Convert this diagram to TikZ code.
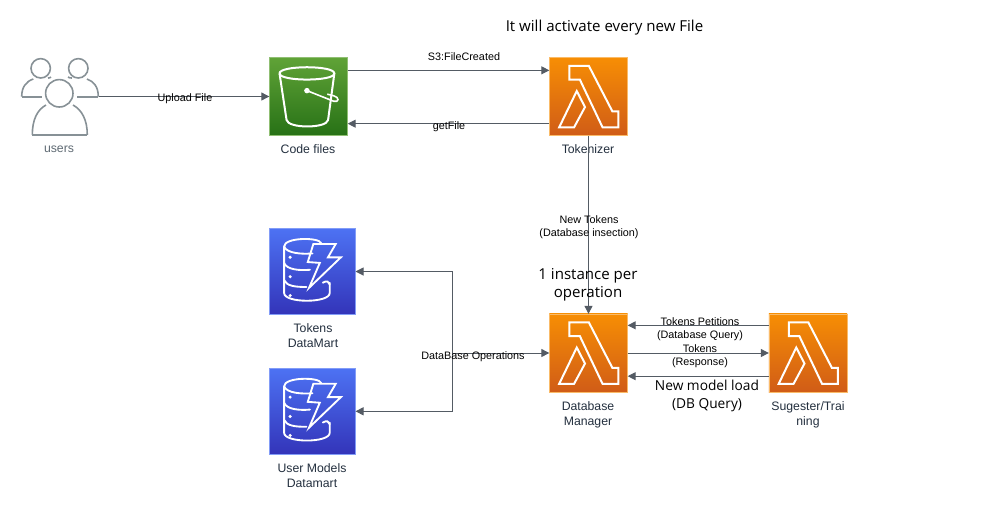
\documentclass[tikz,border=0pt]{standalone}
\usepackage{fontspec}
\setmainfont{Liberation Sans}
\newfontfamily\titlefont{Open Sans}
\usetikzlibrary{arrows.meta,calc}
\definecolor{line}{HTML}{545B64}
\definecolor{lbl}{HTML}{232F3E}
\definecolor{usergray}{HTML}{879196}
\definecolor{s3a}{HTML}{60A337}
\definecolor{s3b}{HTML}{277116}
\definecolor{laa}{HTML}{F78E04}
\definecolor{lab}{HTML}{D05C17}
\definecolor{dba}{HTML}{4D72F3}
\definecolor{dbb}{HTML}{3334B9}
\tikzset{
  x=0.75pt,y=-0.75pt,
  conn/.style={draw=line,line width=0.75pt,-{Triangle[length=6pt,width=6pt]}},
  s3box/.style={minimum width=58.75pt,minimum height=58.75pt,inner sep=0pt,outer sep=0pt,draw=s3a!70!white,line width=0.5pt,top color=s3a,bottom color=s3b},
  lambdabox/.style={minimum width=58.75pt,minimum height=58.75pt,inner sep=0pt,outer sep=0pt,draw=laa!60!white,line width=0.5pt,top color=laa,bottom color=lab},
  dbbox/.style={minimum width=64.5pt,minimum height=64.5pt,inner sep=0pt,outer sep=0pt,draw=dba!70!white,line width=0.5pt,top color=dba,bottom color=dbb},
  capt/.style={font=\fontsize{9.2pt}{11.25pt}\selectfont,text=lbl,align=center,inner sep=0pt},
  elabel/.style={font=\fontsize{8.1pt}{9.75pt}\selectfont,text=black,align=center,inner sep=0pt},
  biglabel/.style={font=\titlefont\fontsize{11.3pt}{13.5pt}\selectfont,text=black,align=center,inner sep=0pt},
  modellabel/.style={font=\titlefont\fontsize{10.3pt}{13.5pt}\selectfont,text=black,align=center,inner sep=0pt},
  glyph/.style={draw=white,line width=1.5pt,line join=miter,fill=none},
  uglyph/.style={draw=usergray,line width=1.2pt},
}
\newcommand\lambdaglyph[1]{%
  \begin{scope}[shift={(#1.north west)},x=58.75pt,y=-58.75pt]
    \draw[glyph] (.255,.11)--(.505,.11)--(.805,.69)--(.88,.69)--(.88,.895)--(.68,.895)--(.39,.285)--(.255,.285)--cycle;
    \draw[glyph] (.35,.43)--(.455,.635)--(.315,.895)--(.125,.895)--cycle;
  \end{scope}}
\newcommand\dbglyph[1]{%
  \begin{scope}[shift={(#1.north west)},x=64.5pt,y=-64.5pt]
    \begin{scope}[glyph,line width=1.4pt,line cap=round]
      \draw (.17,.21) .. controls (.17,.10) and (.58,.10) .. (.60,.17);
      \draw (.17,.21) .. controls (.2,.29) and (.38,.30) .. (.50,.29);
      \draw (.17,.21)--(.17,.75) .. controls (.17,.87) and (.70,.87) .. (.70,.75)--(.70,.63);
      \draw (.17,.40) .. controls (.2,.48) and (.35,.49) .. (.47,.48);
      \draw (.17,.60) .. controls (.2,.67) and (.3,.68) .. (.43,.68);
      \draw (.62,.63) .. controls (.67,.60) and (.69,.62) .. (.70,.65);
      \draw[line join=miter] (.51,.18)--(.77,.18)--(.68,.335)--(.83,.335)--(.46,.69)--(.585,.40)--(.445,.39)--cycle;
    \end{scope}
    \fill[white] (.24,.335) circle (.02) (.24,.56) circle (.02) (.24,.78) circle (.02);
  \end{scope}}
\begin{document}
\begin{tikzpicture}
\useasboundingbox (0,0) rectangle (1006,515);
% icons
\node[minimum width=59.25pt,minimum height=59.25pt,inner sep=0pt,outer sep=0pt] (users) at (59,96.5) {};
\node[s3box] (s3) at (308.5,96.5) {};
\node[lambdabox] (tok) at (588.5,96.5) {};
\node[lambdabox] (dbm) at (588.5,353) {};
\node[lambdabox] (sug) at (808,353) {};
\node[dbbox] (db1) at (312.5,271.5) {};
\node[dbbox] (db2) at (312.5,411.3) {};
% users glyph
\begin{scope}[uglyph]
  \draw (40.7,68.3) circle (9.7);
  \draw (78.3,68.3) circle (9.7);
  \draw (59.3,93.3) circle (13.7);
  \draw (21.7,96.7)--(41.7,96.7) (77.3,96.7)--(98.3,96.7);
  \draw (21.7,96.7) .. controls (21.7,87) and (26,81.5) .. (33.3,79);
  \draw (98.3,96.7) .. controls (98.3,87) and (94,81.5) .. (87,79);
  \draw (48,78) .. controls (49,78.5) and (50,77.5) .. (51,77);
  \draw (68,77) .. controls (69,77.5) and (70.5,78.5) .. (72,78);
  \draw (32.3,135) -- (87.3,135);
  \draw (32.3,135) .. controls (32.3,120) and (37,110) .. (46,105);
  \draw (87.3,135) .. controls (87.3,120) and (82,110) .. (73,105);
\end{scope}
% glyphs
\begin{scope}[shift={(s3.north west)},x=58.75pt,y=-58.75pt]
  \draw[glyph] (.13,.205) .. controls (.13,.10) and (.83,.10) .. (.83,.205) .. controls (.83,.31) and (.13,.31) .. (.13,.205);
  \draw[glyph] (.13,.205) -- (.22,.80) .. controls (.24,.91) and (.73,.91) .. (.75,.80) -- (.83,.205);
  \draw[glyph,line width=1.2pt] (.48,.425) -- (.82,.56) .. controls (.89,.58) and (.90,.51) .. (.82,.49) -- (.74,.47);
  \fill[white] (.48,.425) circle (.035);
\end{scope}
\lambdaglyph{tok}\lambdaglyph{dbm}\lambdaglyph{sug}
\dbglyph{db1}\dbglyph{db2}
% captions
\node[capt,text=usergray!60!lbl] (cu) at (59,149) {users};
\node[capt] (cs) at (308,149) {Code files};
\node[capt] (ct) at (588,149) {Tokenizer};
\node[capt] (c1) at (313,336) {Tokens\\DataMart};
\node[capt] (c2) at (312,476) {User Models\\Datamart};
\node[capt] (cd) at (588,414.5) {Database\\Manager};
\node[capt] (cg) at (808,414.5) {Sugester/Trai\\ning};
% connectors
\coordinate (j) at (452.7,353);
\draw[conn] (users.east) -- (s3.west);
\draw[conn] ($(s3.north east)+(0,13)$) -- ($(tok.north west)+(0,13)$);
\draw[conn] ($(tok.south west)+(0,-12)$) -- ($(s3.south east)+(0,-12)$);
\draw[conn] (tok.south) -- (dbm.north);
\draw[conn] ($(sug.north west)+(0,11.5)$) -- ($(dbm.north east)+(0,11.5)$);
\draw[conn] (dbm.east) -- (sug.west);
\draw[conn] ($(sug.south west)+(0,-16)$) -- ($(dbm.south east)+(0,-16)$);
\draw[conn] (j) -- (dbm.west);
\draw[conn] (j) |- (db1.east);
\draw[conn] (j) |- (db2.east);
% labels
\node[elabel] (l1) at (185,98.5) {Upload File};
\node[elabel] (l2) at (464,57) {S3:FileCreated};
\node[elabel] (l3) at (449,126.5) {getFile};
\node[elabel] (l4) at (589,227) {New Tokens\\(Database insection)};
\node[elabel] (l5) at (473,356.5) {DataBase Operations};
\node[elabel] (l6) at (700,329) {Tokens Petitions\\(Database Query)};
\node[elabel] (l7) at (700,356) {Tokens\\(Response)};
\node[modellabel] (l8) at (707,396) {New model load\\(DB Query)};
\node[biglabel] (t1) at (604.5,28) {It will activate every new File};
\node[biglabel] (t2) at (588,285) {1 instance per\\operation};
\end{tikzpicture}
\end{document}
